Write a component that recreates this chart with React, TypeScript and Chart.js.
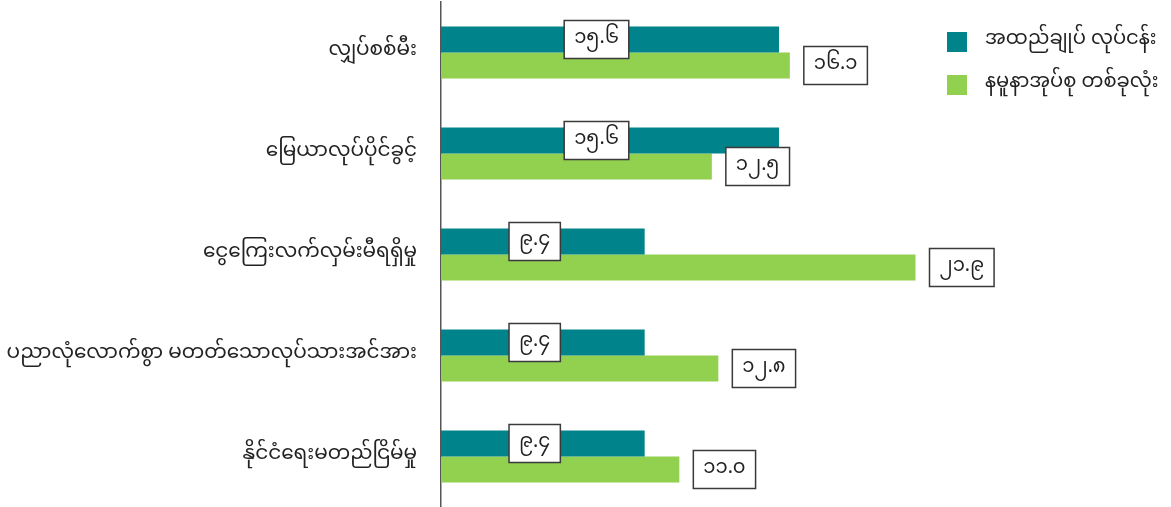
import React, { useEffect, useRef } from "react";
import { Chart, registerables } from "chart.js";

Chart.register(...registerables);

const categories = [
  "လျှပ်စစ်မီး",
  "မြေယာလုပ်ပိုင်ခွင့်",
  "ငွေကြေးလက်လှမ်းမီရရှိမှု",
  "ပညာလုံလောက်စွာ မတတ်သောလုပ်သားအင်အား",
  "နိုင်ငံရေးမတည်ငြိမ်မှု",
];

const seriesNames = ["အထည်ချုပ် လုပ်ငန်း", "နမူနာအုပ်စု တစ်ခုလုံး"];
const garmentValues = [15.6, 15.6, 9.4, 9.4, 9.4];
const sampleValues = [16.1, 12.5, 21.9, 12.8, 11.0];
const seriesColors = ["#00838A", "#92D050"];

const FONT = "'Noto Sans Myanmar', 'Myanmar Text', Padauk, 'Noto Sans', sans-serif";
const MY_DIGITS = ["၀", "၁", "၂", "၃", "၄", "၅", "၆", "၇", "၈", "၉"];
const toMyanmar = (v: number) =>
  v.toFixed(1).replace(/[0-9]/g, (d) => MY_DIGITS[Number(d)]);

const valueLabelPlugin = {
  id: "valueLabels",
  afterDatasetsDraw(chart: any) {
    const ctx = chart.ctx;
    ctx.save();
    ctx.font = `19.5px ${FONT}`;
    ctx.textAlign = "center";
    ctx.textBaseline = "middle";
    chart.data.datasets.forEach((ds: any, di: number) => {
      const meta = chart.getDatasetMeta(di);
      meta.data.forEach((el: any, i: number) => {
        const txt = toMyanmar(ds.data[i]);
        const w = ctx.measureText(txt).width + 20;
        const h = 38;
        let cx: number;
        if (di === 0) {
          cx = el.base + 0.46 * (el.x - el.base);
        } else {
          cx = el.x + 14 + w / 2;
        }
        const cy = el.y;
        ctx.fillStyle = "#ffffff";
        ctx.fillRect(cx - w / 2, cy - h / 2, w, h);
        ctx.strokeStyle = "#3a3a3a";
        ctx.lineWidth = 1.5;
        ctx.strokeRect(cx - w / 2, cy - h / 2, w, h);
        ctx.fillStyle = "#222222";
        ctx.fillText(txt, cx, cy + 1);
      });
    });
    ctx.restore();
  },
};

const legendPlugin = {
  id: "customLegend",
  afterDraw(chart: any) {
    const ctx = chart.ctx;
    ctx.save();
    ctx.font = `19.5px ${FONT}`;
    ctx.textAlign = "left";
    ctx.textBaseline = "middle";
    chart.data.datasets.forEach((ds: any, i: number) => {
      const y = 32 + i * 43;
      ctx.fillStyle = ds.backgroundColor;
      ctx.fillRect(947, y, 20, 20);
      ctx.fillStyle = "#222222";
      ctx.fillText(ds.label, 985, y + 10);
    });
    ctx.restore();
  },
};

export default function App() {
  const ref = useRef<HTMLCanvasElement | null>(null);
  useEffect(() => {
    if (!ref.current) return;
    const chart = new Chart(ref.current, {
      type: "bar",
      data: {
        labels: categories,
        datasets: [
          {
            label: seriesNames[0],
            data: garmentValues,
            backgroundColor: seriesColors[0],
            categoryPercentage: 0.515,
            barPercentage: 1,
          },
          {
            label: seriesNames[1],
            data: sampleValues,
            backgroundColor: seriesColors[1],
            categoryPercentage: 0.515,
            barPercentage: 1,
          },
        ],
      },
      options: {
        indexAxis: "y",
        animation: false,
        responsive: true,
        maintainAspectRatio: false,
        layout: { padding: { top: 2, right: 80, bottom: 0, left: 0 } },
        plugins: {
          legend: { display: false },
          tooltip: { enabled: false },
        },
        scales: {
          x: {
            min: 0,
            max: 30,
            display: false,
          },
          y: {
            afterFit(scale: any) {
              scale.width = 441;
              scale.paddingTop = 0;
              scale.paddingBottom = 0;
            },
            grid: { display: false },
            border: { display: true, color: "#555555", width: 1.5 },
            ticks: {
              padding: 16,
              color: "#222222",
              font: { size: 20, family: FONT },
            },
          },
        },
      },
      plugins: [valueLabelPlugin, legendPlugin],
    });
    return () => chart.destroy();
  }, []);
  return (
    <div style={{ position: "absolute", left: 0, top: 0, width: 1171, height: 507, background: "#fff" }}>
      <canvas ref={ref} />
    </div>
  );
}
